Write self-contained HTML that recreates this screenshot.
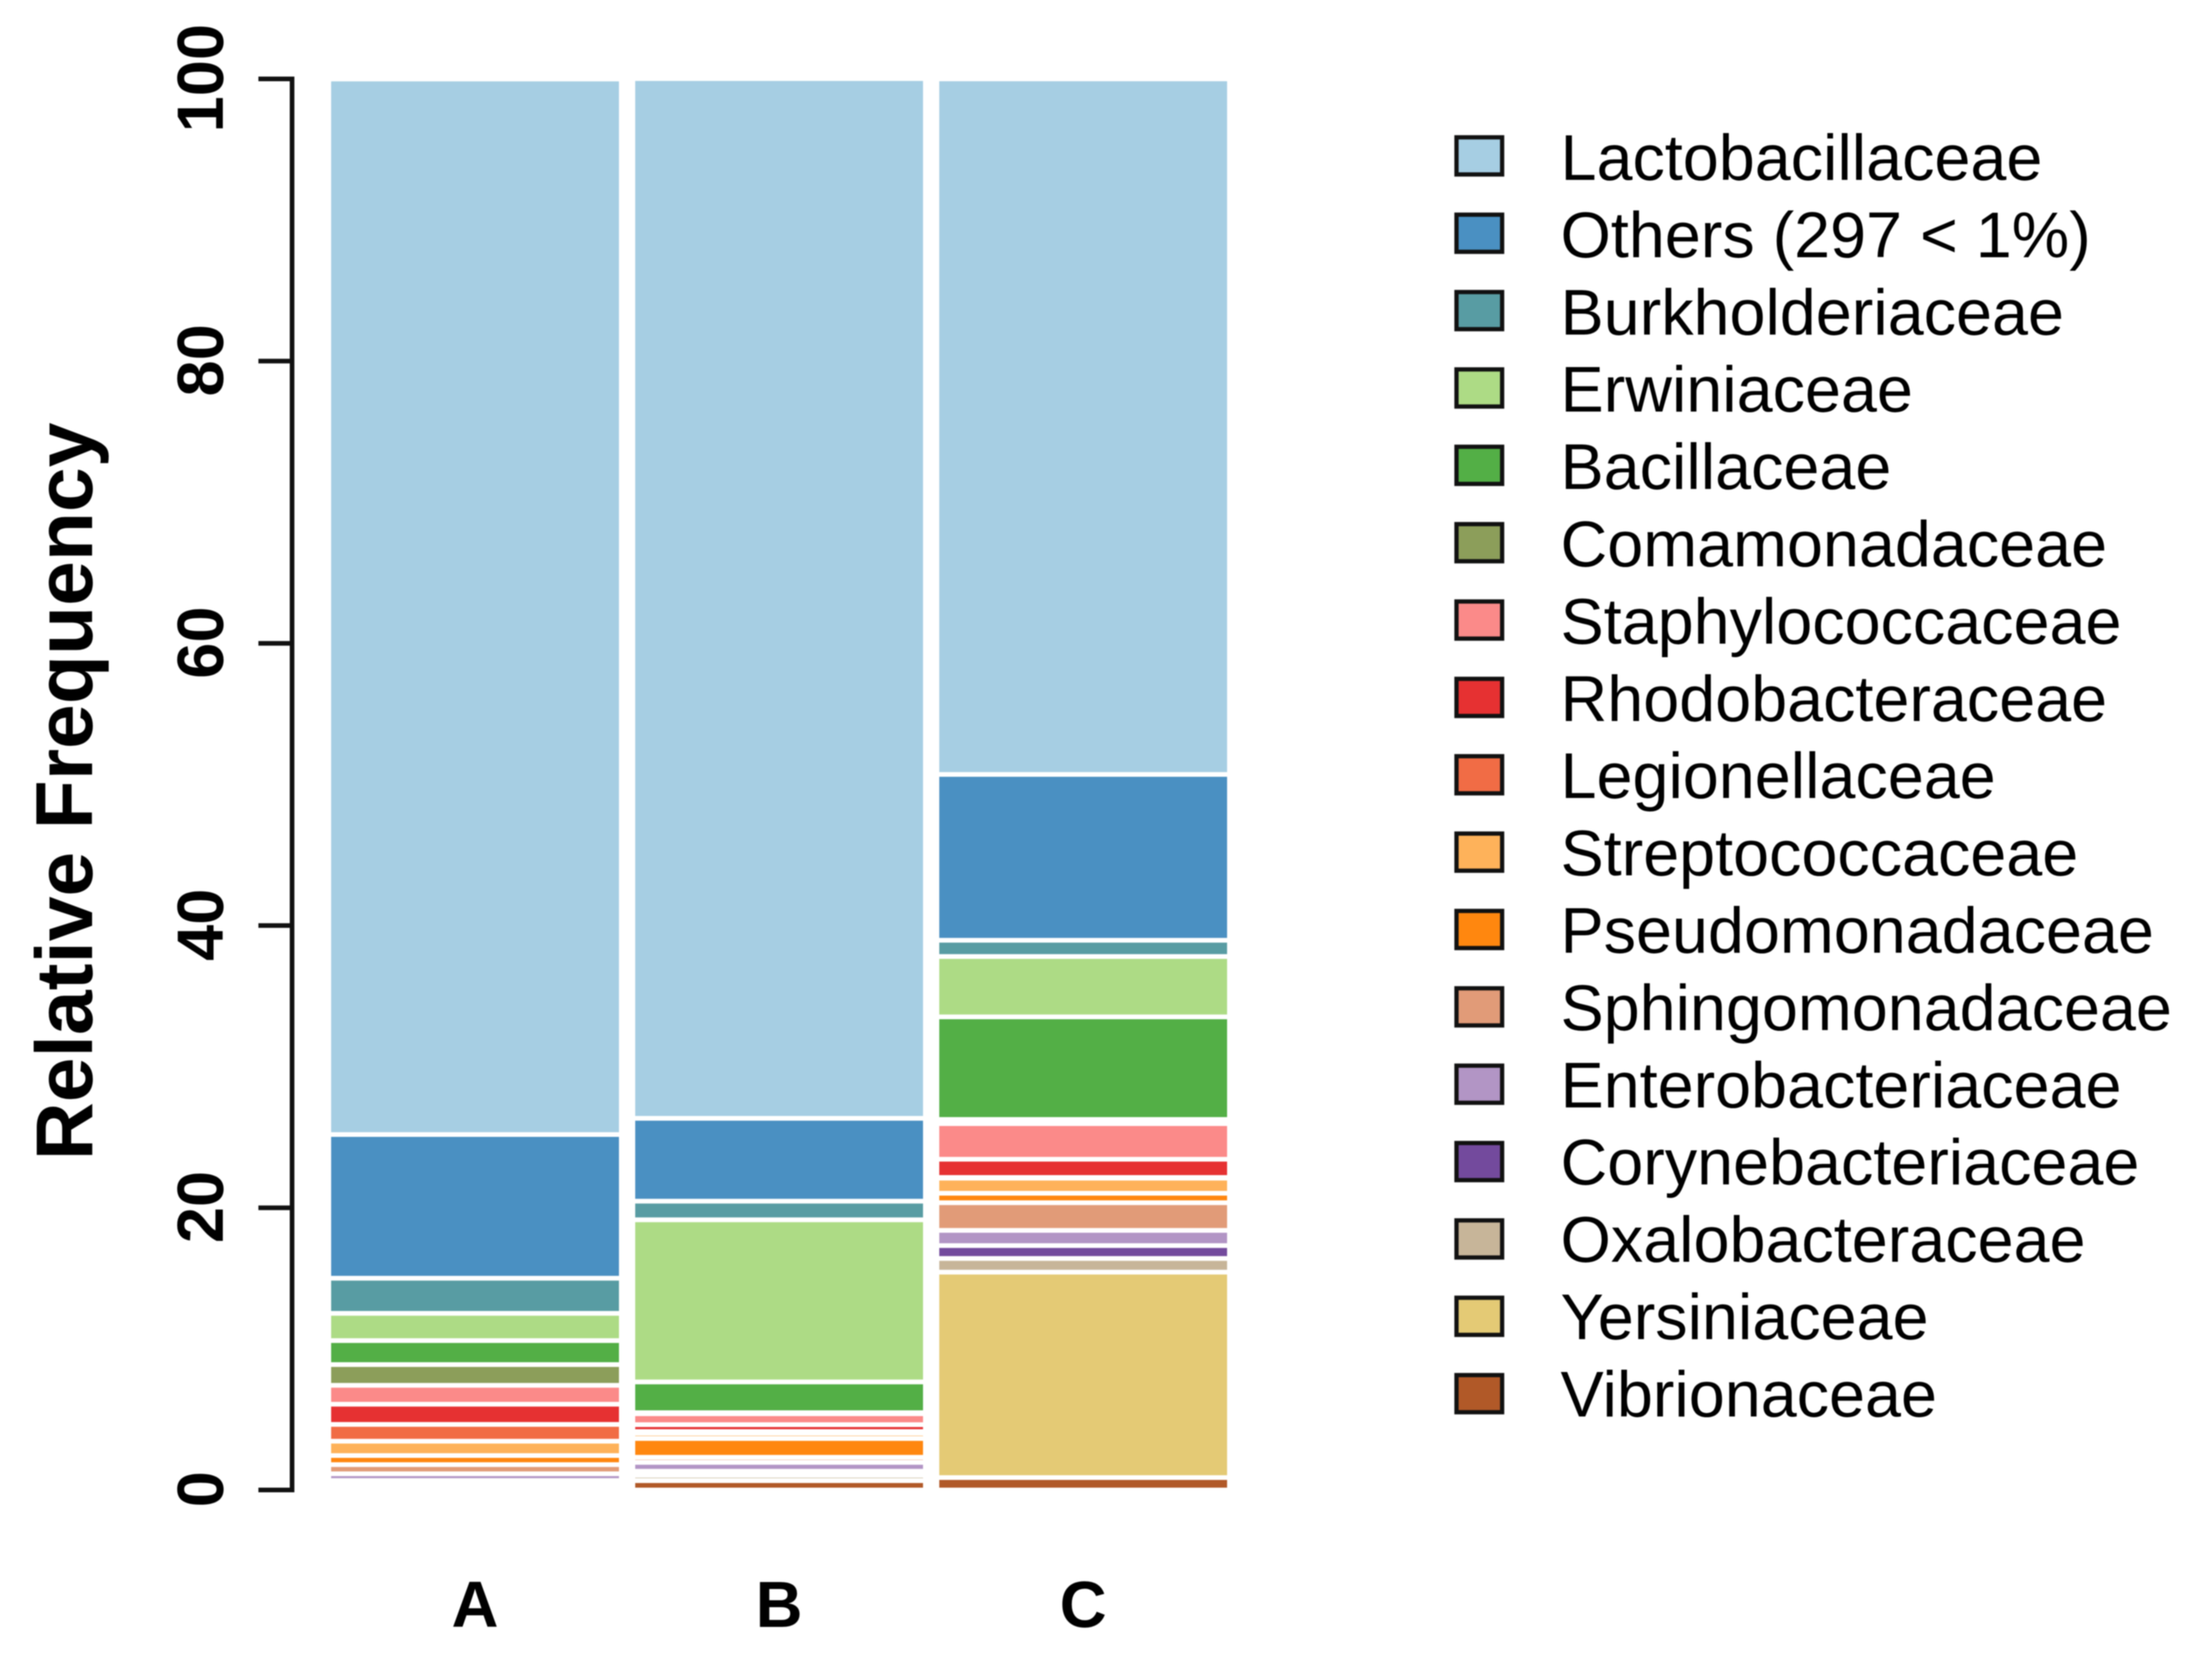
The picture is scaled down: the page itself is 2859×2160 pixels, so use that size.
<!DOCTYPE html>
<html lang="en">
<head>
<meta charset="utf-8">
<title>Relative Frequency by Family</title>
<style>
html,body{margin:0;padding:0;background:#fff;width:2859px;height:2160px;overflow:hidden}
#chart{display:block;filter:blur(0.7px)}
text{font-family:"Liberation Sans",Arial,sans-serif;fill:#000}
</style>
</head>
<body>
<svg id="chart" xmlns="http://www.w3.org/2000/svg" width="2859" height="2160" viewBox="0 0 2859 2160">
  <rect x="0" y="0" width="2859" height="2160" fill="#ffffff"/>
  <g id="bars"></g>
  <g id="axis"></g>
  <g id="xlabels"></g>
  <g id="legend"></g>
  <text transform="translate(119,1023) rotate(-90)" text-anchor="middle" font-size="104" font-weight="bold">Relative Frequency</text>
</svg>
<script>
const categories = ["A", "B", "C"];
const families = ["Lactobacillaceae", "Others (297 < 1%)", "Burkholderiaceae", "Erwiniaceae", "Bacillaceae", "Comamonadaceae", "Staphylococcaceae", "Rhodobacteraceae", "Legionellaceae", "Streptococcaceae", "Pseudomonadaceae", "Sphingomonadaceae", "Enterobacteriaceae", "Corynebacteriaceae", "Oxalobacteraceae", "Yersiniaceae", "Vibrionaceae"];
const palette = ["#a6cee3", "#4a90c2", "#589ca3", "#addb85", "#53af46", "#8c9e5a", "#fb8a89", "#e63132", "#f16c45", "#feb25a", "#ff870f", "#e19b78", "#b295c5", "#734a9d", "#c7b599", "#e4ca75", "#b15928"];
const valuesA = [74.80, 10.18, 2.49, 1.93, 1.70, 1.47, 1.34, 1.43, 1.19, 1.02, 0.64, 0.65, 0.48, 0.17, 0.17, 0.17, 0.16];
const valuesB = [73.68, 5.87, 1.32, 11.49, 2.18, 0.08, 0.77, 0.49, 0.12, 0.37, 1.33, 0.36, 0.63, 0.29, 0.37, 0.01, 0.66];
const valuesC = [49.29, 11.75, 1.15, 4.28, 7.27, 0.30, 2.52, 1.29, 0.05, 1.07, 0.67, 1.96, 1.08, 0.91, 0.97, 14.56, 0.88];
const yTicks = [0, 20, 40, 60, 80, 100];

const seriesValues = [valuesA, valuesB, valuesC];
const NS = "http://www.w3.org/2000/svg";
const yBase = 1926, yTop = 102;
function yScale(v) { return yBase - v * (yBase - yTop) / 100; }
function xBand(i) { return 425 + i * 393; }
const bandWidth = 378;
function slug(s) { return s.toLowerCase().replace(/[^a-z0-9]+/g, "-").replace(/-+$/, ""); }

const barsG = document.getElementById("bars");
categories.forEach(function (cat, c) {
  let cum = 0;
  for (let f = families.length - 1; f >= 0; f--) {
    const v = seriesValues[c][f];
    const r = document.createElementNS(NS, "rect");
    r.setAttribute("x", xBand(c));
    r.setAttribute("y", yScale(cum + v));
    r.setAttribute("width", bandWidth);
    r.setAttribute("height", yScale(cum) - yScale(cum + v));
    r.setAttribute("fill", palette[f]);
    r.setAttribute("stroke", "#ffffff");
    r.setAttribute("stroke-width", "6");
    
    
    barsG.appendChild(r);
    cum += v;
  }
});

const axisG = document.getElementById("axis");
const axisLine = document.createElementNS(NS, "line");
axisLine.setAttribute("x1", 377.5);
axisLine.setAttribute("x2", 377.5);
axisLine.setAttribute("y1", yScale(yTicks[0]) + 3);
axisLine.setAttribute("y2", yScale(yTicks[yTicks.length - 1]) - 3);
axisLine.setAttribute("stroke", "#111");
axisLine.setAttribute("stroke-width", "6");


axisG.appendChild(axisLine);
yTicks.forEach(function (t) {
  const tick = document.createElementNS(NS, "line");
  tick.setAttribute("x1", 334);
  tick.setAttribute("x2", 380.5);
  tick.setAttribute("y1", yScale(t));
  tick.setAttribute("y2", yScale(t));
  tick.setAttribute("stroke", "#111");
  tick.setAttribute("stroke-width", "6");
  
  
  axisG.appendChild(tick);
  const label = document.createElementNS(NS, "text");
  label.setAttribute("transform", "translate(288," + (yScale(t) - 1) + ") rotate(-90)");
  label.setAttribute("text-anchor", "middle");
  label.setAttribute("font-size", "84");
  label.setAttribute("font-weight", "bold");
  
  
  label.textContent = String(t);
  axisG.appendChild(label);
});

const xG = document.getElementById("xlabels");
categories.forEach(function (cat, c) {
  const t = document.createElementNS(NS, "text");
  t.setAttribute("x", xBand(c) + bandWidth / 2);
  t.setAttribute("y", 2103);
  t.setAttribute("text-anchor", "middle");
  t.setAttribute("font-size", "84");
  t.setAttribute("font-weight", "bold");
  
  
  t.textContent = cat;
  xG.appendChild(t);
});

const legendG = document.getElementById("legend");
families.forEach(function (name, i) {
  const swatch = document.createElementNS(NS, "rect");
  swatch.setAttribute("x", 1882.5);
  swatch.setAttribute("y", 177.5 + i * 100);
  swatch.setAttribute("width", 59);
  swatch.setAttribute("height", 48);
  swatch.setAttribute("fill", palette[i]);
  swatch.setAttribute("stroke", "#111");
  swatch.setAttribute("stroke-width", "5.5");
  
  
  legendG.appendChild(swatch);
  const label = document.createElementNS(NS, "text");
  label.setAttribute("x", 2017);
  label.setAttribute("y", 232.5 + i * 99.9);
  label.setAttribute("font-size", "83.6");
  
  
  label.textContent = name;
  legendG.appendChild(label);
});
</script>
</body>
</html>
